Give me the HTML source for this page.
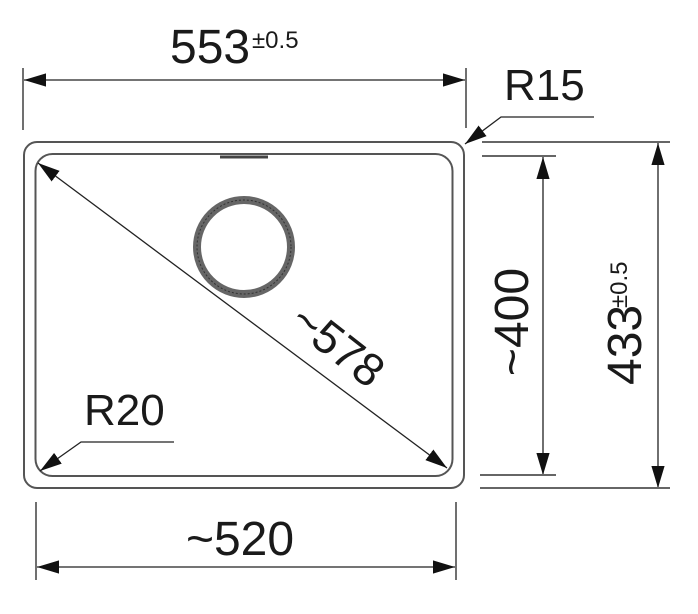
<!DOCTYPE html>
<html><head><style>body{margin:0;background:#fff}svg{display:block}</style></head><body>
<svg width="698" height="614" viewBox="0 0 698 614" xmlns="http://www.w3.org/2000/svg" font-family="Liberation Sans, sans-serif" fill="#1a1a1a">
<defs>
<marker id="a" viewBox="0 0 10 10" refX="10" refY="5" markerWidth="22" markerHeight="22" markerUnits="userSpaceOnUse" orient="auto-start-reverse"><path d="M0,2 L10,5 L0,8 z" fill="#111"/></marker>
</defs>
<g fill="none" stroke="#555" stroke-width="2">
<rect x="24" y="142" width="440" height="346" rx="13"/>
<rect x="35.5" y="154" width="417" height="322" rx="17"/>
</g>
<line x1="220" y1="157" x2="268" y2="157" stroke="#444" stroke-width="3"/>
<circle cx="244" cy="247" r="47" fill="none" stroke="#666" stroke-width="8"/>
<circle cx="244" cy="247" r="47" fill="none" stroke="#333" stroke-width="1" stroke-dasharray="2 2"/>
<g stroke="#222" stroke-width="1.3" fill="none">
<line x1="23" y1="68" x2="23" y2="130"/>
<line x1="466" y1="68" x2="466" y2="128"/>
<line x1="24" y1="80" x2="465" y2="80" marker-start="url(#a)" marker-end="url(#a)"/>
<line x1="38" y1="163" x2="447" y2="468" marker-start="url(#a)" marker-end="url(#a)"/>
<polyline points="594,117 501,117 465,144" marker-end="url(#a)"/>
<polyline points="174,442 81,442 40,471" marker-end="url(#a)"/>
<line x1="36" y1="502" x2="36" y2="580"/>
<line x1="456" y1="502" x2="456" y2="580"/>
<line x1="37" y1="567" x2="455" y2="567" marker-start="url(#a)" marker-end="url(#a)"/>
<line x1="543" y1="157" x2="543" y2="475" marker-start="url(#a)" marker-end="url(#a)"/>
<line x1="658" y1="143" x2="658" y2="488" marker-start="url(#a)" marker-end="url(#a)"/>
</g>
<g stroke="#666" stroke-width="2">
<line x1="482" y1="142" x2="670" y2="142"/>
<line x1="482" y1="156" x2="556" y2="156"/>
<line x1="480" y1="475" x2="556" y2="475"/>
<line x1="480" y1="488" x2="670" y2="488"/>
</g>
<text x="170" y="63" font-size="48">553</text>
<text x="252" y="48" font-size="24">±0.5</text>
<text x="504" y="100" font-size="44">R15</text>
<text x="84" y="425" font-size="44">R20</text>
<text x="240" y="555" font-size="48" text-anchor="middle">~520</text>
<text transform="translate(338,345) rotate(38)" font-size="46" text-anchor="middle" dy="16">~578</text>
<text transform="translate(528,322) rotate(-90)" font-size="48" text-anchor="middle">~400</text>
<text transform="translate(641,385) rotate(-90)" font-size="48">433</text>
<text transform="translate(627,308) rotate(-90)" font-size="24">±0.5</text>
</svg>
</body></html>
